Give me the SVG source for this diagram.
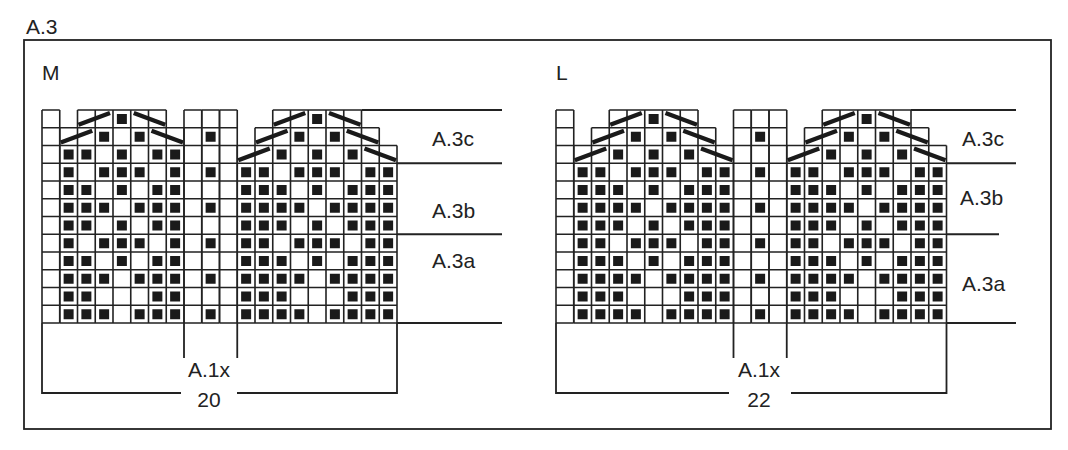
<svg xmlns="http://www.w3.org/2000/svg" xmlns:xlink="http://www.w3.org/1999/xlink" width="1068" height="450" viewBox="0 0 1068 450">
<style>
.g{fill:none;stroke:#222;stroke-width:1.6}
.ln{fill:none;stroke:#222;stroke-width:1.8}
.d{stroke:#1a1a1a;stroke-width:4.4;stroke-linecap:butt}
.sq{fill:#1a1a1a}
text{font-family:"Liberation Sans",Arial,sans-serif;font-size:21px;fill:#222}
</style>
<defs>
<path id="r9a" class="sq" d="M3.875 0h10v10h-10zM21.625 0h10v10h-10zM57.125 0h10v10h-10zM74.875 0h10v10h-10zM92.625 0h10v10h-10zM128.125 0h10v10h-10zM145.875 0h10v10h-10z"/>
<path id="r9b" class="sq" d="M3.875 0h10v10h-10zM21.625 0h10v10h-10zM39.375 0h10v10h-10zM74.875 0h10v10h-10zM110.375 0h10v10h-10zM128.125 0h10v10h-10zM145.875 0h10v10h-10z"/>
<path id="r9c" class="sq" d="M3.875 0h10v10h-10zM21.625 0h10v10h-10zM39.375 0h10v10h-10zM57.125 0h10v10h-10zM92.625 0h10v10h-10zM110.375 0h10v10h-10zM128.125 0h10v10h-10zM145.875 0h10v10h-10z"/>
<g id="m9">
<path class="g" d="M35.5 0H124.25M17.75 17.75H142M0 35.5H159.75M0 53.25H159.75M0 71H159.75M0 88.75H159.75M0 106.5H159.75M0 124.25H159.75M0 142H159.75M0 159.75H159.75M0 177.5H159.75M0 195.25H159.75M0 213H159.75M0 35.5V213M17.75 17.75V213M35.5 0V213M53.25 0V213M71 0V213M88.75 0V213M106.5 0V213M124.25 0V213M142 17.75V213M159.75 35.5V213"/>
<path class="sq" d="M74.875 3.875h10v10h-10zM57.125 21.625h10v10h-10zM92.625 21.625h10v10h-10zM39.375 39.375h10v10h-10zM74.875 39.375h10v10h-10zM110.375 39.375h10v10h-10z"/>
<use xlink:href="#r9a" y="57.125"/>
<use xlink:href="#r9b" y="74.875"/>
<use xlink:href="#r9c" y="92.625"/>
<use xlink:href="#r9b" y="110.375"/>
<use xlink:href="#r9a" y="128.125"/>
<use xlink:href="#r9b" y="145.875"/>
<use xlink:href="#r9c" y="163.625"/>
<path class="sq" d="M3.875 181.375h10v10h-10zM21.625 181.375h10v10h-10zM39.375 181.375h10v10h-10zM110.375 181.375h10v10h-10zM128.125 181.375h10v10h-10zM145.875 181.375h10v10h-10z"/>
<use xlink:href="#r9c" y="199.125"/>
<path class="d" d="M36.5 14.75L68 3M91.75 3L123.25 14.75M18.75 32.5L50.25 20.75M109.5 20.75L141 32.5M1 50.25L32.5 38.5M127.25 38.5L158.75 50.25"/>
</g>
<path id="r7a" class="sq" d="M3.875 0h10v10h-10zM21.625 0h10v10h-10zM57.125 0h10v10h-10zM92.625 0h10v10h-10zM110.375 0h10v10h-10z"/>
<path id="r7b" class="sq" d="M3.875 0h10v10h-10zM39.375 0h10v10h-10zM57.125 0h10v10h-10zM74.875 0h10v10h-10zM110.375 0h10v10h-10z"/>
<path id="r7c" class="sq" d="M3.875 0h10v10h-10zM21.625 0h10v10h-10zM39.375 0h10v10h-10zM74.875 0h10v10h-10zM92.625 0h10v10h-10zM110.375 0h10v10h-10z"/>
<g id="m7">
<path class="g" d="M17.75 0H106.5M0 17.75H124.25M0 35.5H124.25M0 53.25H124.25M0 71H124.25M0 88.75H124.25M0 106.5H124.25M0 124.25H124.25M0 142H124.25M0 159.75H124.25M0 177.5H124.25M0 195.25H124.25M0 213H124.25M0 17.75V213M17.75 0V213M35.5 0V213M53.25 0V213M71 0V213M88.75 0V213M106.5 0V213M124.25 17.75V213"/>
<path class="sq" d="M57.125 3.875h10v10h-10zM39.375 21.625h10v10h-10zM74.875 21.625h10v10h-10z"/>
<use xlink:href="#r7a" y="39.375"/>
<use xlink:href="#r7b" y="57.125"/>
<use xlink:href="#r7a" y="74.875"/>
<use xlink:href="#r7c" y="92.625"/>
<use xlink:href="#r7a" y="110.375"/>
<use xlink:href="#r7b" y="128.125"/>
<use xlink:href="#r7a" y="145.875"/>
<use xlink:href="#r7c" y="163.625"/>
<path class="sq" d="M3.875 181.375h10v10h-10zM21.625 181.375h10v10h-10zM92.625 181.375h10v10h-10zM110.375 181.375h10v10h-10z"/>
<use xlink:href="#r7c" y="199.125"/>
<path class="d" d="M18.75 14.75L50.25 3M74 3L105.5 14.75M1 32.5L32.5 20.75M91.75 20.75L123.25 32.5"/>
</g>
<path id="col" class="g" d="M0 0H17.75M0 17.75H17.75M0 35.5H17.75M0 53.25H17.75M0 71H17.75M0 88.75H17.75M0 106.5H17.75M0 124.25H17.75M0 142H17.75M0 159.75H17.75M0 177.5H17.75M0 195.25H17.75M0 213H17.75M0 0V213M17.75 0V213"/>
<g id="a1x">
<use xlink:href="#col"/>
<use xlink:href="#col" x="17.75"/>
<use xlink:href="#col" x="35.5"/>
<path class="sq" d="M21.625 21.625h10v10h-10zM21.625 57.125h10v10h-10zM21.625 92.625h10v10h-10zM21.625 128.125h10v10h-10zM21.625 163.625h10v10h-10zM21.625 199.125h10v10h-10z"/>
</g>
</defs>
<rect x="24" y="40" width="1027" height="389" class="ln"/>
<text x="26" y="34">A.3</text>
<text x="42" y="80">M</text>
<text x="556" y="80">L</text>
<g id="chartM">
<use xlink:href="#col" x="42" y="110"/>
<use xlink:href="#m7" x="59.75" y="110"/>
<use xlink:href="#a1x" x="184" y="110"/>
<use xlink:href="#m9" x="237.25" y="110"/>
</g>
<g id="chartL">
<use xlink:href="#col" x="556" y="110"/>
<use xlink:href="#m9" x="573.75" y="110"/>
<use xlink:href="#a1x" x="733.5" y="110"/>
<use xlink:href="#m9" x="786.75" y="110"/>
</g>
<g id="connectors" class="ln">
<path d="M361.5 110H502M397 163.25H502M397 234.25H502M397 323H502"/>
<path d="M42 323V393H181M237 393H397V323M184 323V358M237.25 323V358"/>
<path d="M911 110H1016M946.5 163.25H1016M946.5 234.25H999M946.5 323H1016"/>
<path d="M556 323V393H729M791 393H946.5V323M733.5 323V358M786.75 323V358"/>
</g>
<g id="labels">
<text x="432" y="146">A.3c</text>
<text x="432" y="218">A.3b</text>
<text x="432" y="268">A.3a</text>
<text x="962" y="146">A.3c</text>
<text x="960" y="205">A.3b</text>
<text x="962" y="291">A.3a</text>
<text x="209" y="377" text-anchor="middle">A.1x</text>
<text x="209" y="407" text-anchor="middle">20</text>
<text x="759" y="377" text-anchor="middle">A.1x</text>
<text x="759" y="407" text-anchor="middle">22</text>
</g>
</svg>
